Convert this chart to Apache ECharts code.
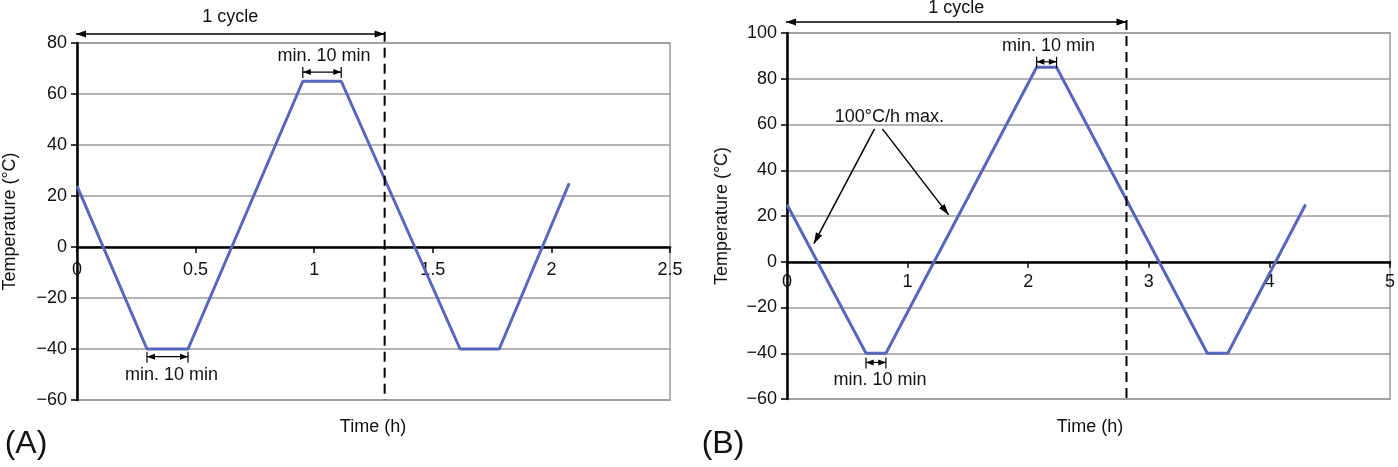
<!DOCTYPE html>
<html><head><meta charset="utf-8">
<script src="https://cdn.jsdelivr.net/npm/echarts@6/dist/echarts.min.js"></script>
<style>html,body{margin:0;padding:0;background:#fff}#c{width:1398px;height:467px}</style>
</head><body><div id="c"></div>
<script>
// ---- data ----
const timeA = [0, 0.295, 0.468, 0.952, 1.114, 1.615, 1.78, 2.075];
const tempA = [24, -40, -40, 65, 65, -40, -40, 25];
const timeB = [0, 0.655, 0.82, 2.07, 2.235, 3.485, 3.655, 4.3];
const tempB = [25, -40, -40, 85, 85, -40, -40, 25];
const xRangeA = [0, 2.5, 0.5];
const yRangeA = [-60, 80, 20];
const xRangeB = [0, 5, 1];
const yRangeB = [-60, 100, 20];
const cycleEndA = 1.297;
const cycleEndB = 2.815;
const dwellA = [[0.295, 0.468, -43], [0.952, 1.114, 68.6]];
const dwellB = [[0.655, 0.82, -44], [2.07, 2.235, 87.4]];
const rateArrowsB = [[[0.726, 58.1], [0.223, 7.9]], [[0.791, 58.1], [1.34, 20.5]]];

const FONT = '"Liberation Sans", Arial, Helvetica, sans-serif';
const LINE_COLOR = '#5866bc';
const GRID_COLOR = '#9a9a9a';

const zip = (xs, ys) => xs.map((x, i) => [x, ys[i]]);
const minus = v => String(v).replace('-', '\u2212');

function xAxisCfg(gi, r, margin) {
  return {
    gridIndex: gi, type: 'value', min: r[0], max: r[1], interval: r[2], position: 'bottom', offset: 0,
    axisLine: { show: true, onZero: false, lineStyle: { color: '#000', width: 2.5 } },
    axisTick: { show: true, length: 6, lineStyle: { color: '#000', width: 1.5 } },
    axisLabel: { color: '#111', fontSize: 18, fontFamily: FONT, margin: margin },
    splitLine: { show: false }
  };
}
function yAxisCfg(gi, r, gap) {
  return {
    gridIndex: gi, type: 'value', min: r[0], max: r[1], interval: r[2],
    axisLine: { show: true, onZero: false, lineStyle: { color: '#000', width: 2.5 } },
    axisTick: { show: true, length: 6, lineStyle: { color: '#000', width: 1.5 } },
    axisLabel: { color: '#111', fontSize: 18, fontFamily: FONT, margin: 10, formatter: minus },
    splitLine: { show: true, lineStyle: { color: GRID_COLOR, width: 1.5 } },
    name: 'Temperature (\u00b0C)', nameLocation: 'middle', nameGap: gap,
    nameTextStyle: { color: '#111', fontSize: 18, fontFamily: FONT }
  };
}

const chart = echarts.init(document.getElementById('c'), null, { renderer: 'canvas' });
const xAxes = [xAxisCfg(0, xRangeA, 14), xAxisCfg(1, xRangeB, 11)];
chart.setOption({
  animation: false,
  backgroundColor: '#fff',
  grid: [
    { left: 76, top: 43, width: 594, height: 357, show: true, borderColor: GRID_COLOR, borderWidth: 1.5, backgroundColor: 'transparent' },
    { left: 787, top: 33, width: 606, height: 366, show: true, borderColor: GRID_COLOR, borderWidth: 1.5, backgroundColor: 'transparent' }
  ],
  xAxis: xAxes,
  yAxis: [yAxisCfg(0, yRangeA, 58), yAxisCfg(1, yRangeB, 56)],
  series: [
    { type: 'line', xAxisIndex: 0, yAxisIndex: 0, data: zip(timeA, tempA), showSymbol: false, symbol: 'none',
      lineStyle: { color: LINE_COLOR, width: 3 }, z: 3 },
    { type: 'line', xAxisIndex: 1, yAxisIndex: 1, data: zip(timeB, tempB), showSymbol: false, symbol: 'none',
      lineStyle: { color: LINE_COLOR, width: 3 }, z: 3 }
  ]
});

const px = (gi, p) => chart.convertToPixel({ gridIndex: gi }, p);

// move each time axis (line, ticks and labels) up to the 0 °C level
const yMins = [yRangeA[0], yRangeB[0]];
xAxes.forEach((ax, gi) => {
  ax.offset = px(gi, [0, 0])[1] - px(gi, [0, yMins[gi]])[1];
});
chart.setOption({ xAxis: xAxes });

// ---- annotations, positioned through the chart's own scales ----
const G = [];
function line(a, b, w, dash) {
  G.push({ type: 'line', z: 10, shape: { x1: a[0], y1: a[1], x2: b[0], y2: b[1] },
    style: { stroke: '#000', lineWidth: w || 1.5, lineDash: dash || null } });
}
function head(tip, from, len, half) {
  len = len || 9; half = half || 3.5;
  const dx = tip[0] - from[0], dy = tip[1] - from[1];
  const L = Math.hypot(dx, dy) || 1;
  const ux = dx / L, uy = dy / L, nx = -uy, ny = ux;
  const bx = tip[0] - ux * len, by = tip[1] - uy * len;
  G.push({ type: 'polygon', z: 11, shape: { points: [[tip[0], tip[1]], [bx + nx * half, by + ny * half], [bx - nx * half, by - ny * half]] },
    style: { fill: '#000' } });
}
function text(str, x, y, size, opts) {
  G.push(Object.assign({ type: 'text', z: 12, x: x, y: y,
    style: { text: str, fill: '#111', font: (size || 18) + 'px ' + FONT,
      align: 'center', verticalAlign: 'middle', textAlign: 'center', textVerticalAlign: 'middle' } }, opts || {}));
}
function cycle(gi, xEnd, yArrow, yTop, yBottom, textGap) {
  const a = px(gi, [0, yArrow]), b = px(gi, [xEnd, yArrow]);
  a[0] -= 1;
  line(a, b, 1.5);
  head(a, b, 10, 3.5); head(b, a, 10, 3.5);
  line(px(gi, [xEnd, yTop]), px(gi, [xEnd, yBottom]), 2, [10, 6]);
  text('1 cycle', (a[0] + b[0]) / 2, a[1] - textGap);
}
function bracket(gi, d, above) {
  const a = px(gi, [d[0], d[2]]), b = px(gi, [d[1], d[2]]);
  line([a[0], a[1] - 5], [a[0], a[1] + 6], 1.2);
  line([b[0], b[1] - 5], [b[0], b[1] + 6], 1.2);
  line(a, b, 1.2);
  const w = b[0] - a[0];
  const hl = Math.min(8, w / 2.6);
  head(a, b, hl, 3); head(b, a, hl, 3);
  text('min. 10 min', (a[0] + b[0]) / 2 + (above ? 2 : 4), a[1] + (above ? -16 : 18));
}

cycle(0, cycleEndA, 83.5, 84.4, -60, 17);
cycle(1, cycleEndB, 104.8, 105.7, -60, 14);
bracket(0, dwellA[0], false);
bracket(0, dwellA[1], true);
bracket(1, dwellB[0], false);
bracket(1, dwellB[1], true);

rateArrowsB.forEach(s => {
  const a = px(1, s[0]), b = px(1, s[1]);
  line(a, b, 1.5);
  head(b, a, 11, 3.5);
});
const rt = px(1, [0.849, 63.4]);
text('100\u00b0C/h max.', rt[0], rt[1]);

text('Time (h)', 373, 427);
text('Time (h)', 1090, 427);
text('(A)', 26, 444, 32);
text('(B)', 723, 444, 32);

chart.setOption({ graphic: G });
</script>
</body></html>
